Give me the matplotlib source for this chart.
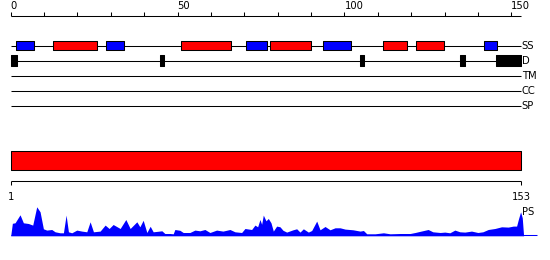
import numpy as np
import matplotlib
matplotlib.use("Agg")
import matplotlib.pyplot as plt

# ---------------- data ----------------
seq_length = 153
ruler_ticks = list(range(0, 151, 10))
ruler_labels = [0, 50, 100, 150]

track_names = ["SS", "D", "TM", "CC", "SP"]

helix_ranges = [(12.8, 25.8), (50.9, 66.0), (77.7, 89.9), (111.7, 118.7), (121.6, 129.7)]
strand_ranges = [(1.6, 6.9), (28.6, 33.9), (70.6, 76.8), (93.7, 101.9), (141.7, 145.7)]
disorder_ranges = [(0.0, 1.8), (44.8, 46.0), (104.7, 106.0), (134.7, 136.0), (145.5, 153.0)]
domain_ranges = [(0.0, 153.0)]

bottom_labels = ["1", "153"]
bottom_label_pos = [0, 153]

ps_pos = [0.0, 0.5, 1.3, 2.8, 3.8, 5.3, 6.6, 7.8, 8.8, 9.8, 10.8, 12.3, 13.3, 14.8,
          15.8, 16.6, 17.3, 18.3, 19.8, 21.3, 22.8, 23.8, 24.8, 26.8, 28.3, 29.5,
          30.7, 32.8, 34.5, 35.8, 37.8, 38.7, 39.7, 40.8, 41.8, 42.7, 44.1, 45.3,
          46.2, 47.7, 48.7, 49.2, 50.7, 51.7, 53.7, 55.2, 56.7, 58.2, 59.7, 61.7,
          63.6, 65.7, 67.2, 69.2, 70.2, 72.2, 73.2, 74.0, 74.7, 75.2, 75.7, 76.5,
          77.2, 78.0, 78.7, 79.7, 80.7, 81.6, 82.7, 84.6, 85.7, 86.7, 87.7, 89.2,
          90.2, 91.7, 92.7, 94.2, 95.7, 97.2, 98.7, 100.2, 102.6, 104.7, 105.7,
          106.7, 109.2, 111.7, 113.7, 116.7, 119.7, 121.2, 123.0, 125.1, 126.5,
          128.7, 130.1, 131.6, 133.1, 134.6, 136.1, 138.1, 140.0, 141.5, 143.1,
          145.1, 147.1, 149.1, 150.6, 151.6, 152.2, 152.8, 153.3, 153.7]
ps_val = [0, 12.5, 13, 21, 13, 12.3, 10.7, 29, 24, 7, 5.7, 6.3, 4, 3,
          3, 20.7, 4, 3, 5.7, 4.7, 4, 14, 4, 4.7, 10.7, 7.3,
          11.3, 7.3, 16.3, 7.3, 14, 9, 15.5, 3.3, 9.5, 4, 4.5, 5,
          2.3, 2.3, 2, 6.3, 5.5, 3.3, 3.3, 5.7, 5, 6.3, 3.3, 5.7,
          4.7, 6.3, 4, 3.3, 7.3, 6.3, 10.7, 9, 16.3, 11.5, 20.7, 15,
          17.3, 13, 4.7, 9.7, 9, 5.5, 3.7, 6, 7, 3.7, 7, 3.7,
          5.3, 14.7, 6, 9.3, 6, 8, 8, 6.7, 6, 4.7, 5.3,
          2, 2, 3, 2, 2.3, 2.3, 3.3, 4.7, 6.3, 4,
          3.3, 3.7, 3, 5.7, 4, 3.7, 4.7, 3.3, 4, 6.3,
          7.3, 9, 8.7, 9.7, 9.7, 17.3, 24, 18, 0]
ps_baseline_end = 157.6

# ---------------- layout ----------------
W, H = 550, 260
PX_PER_RES = 3.337
X0_PX = 10.7
xmin = -X0_PX / PX_PER_RES
xmax = xmin + W / PX_PER_RES

RED, BLUE, BLACK = "#ff0000", "#0000ff", "#000000"
LW = 0.75
FS = 7.2
TXT = "#000000"

plt.rcParams["font.family"] = ["DejaVu Sans"]
fig = plt.figure(figsize=(W / 100, H / 100), dpi=100)
ax = fig.add_axes([0, 0, 1, 1])
ax.set_xlim(xmin, xmax)
ax.set_ylim(H, 0)
ax.axis("off")

# ruler
ruler_y = 15.5
ax.hlines(ruler_y, 0, seq_length, color=BLACK, lw=LW)
ax.vlines(ruler_ticks, 11.5, ruler_y, color=BLACK, lw=LW)
for v in ruler_labels:
    ax.text(v, 9.3, str(v), ha="left", va="baseline", fontsize=FS, color=TXT)

# tracks
track_y = [45.5, 60.5, 75.5, 90.5, 105.5]
for name, y in zip(track_names, track_y):
    ax.hlines(y, 0, seq_length, color=BLACK, lw=LW, zorder=1)
    ax.text(seq_length + 0.1, y + 3.6, name, ha="left", va="baseline", fontsize=FS, color=TXT)

ss_y = track_y[0]
ax.broken_barh([(a, b - a) for a, b in strand_ranges], (ss_y - 4.8, 9.6),
               facecolors=BLUE, edgecolors=BLACK, linewidth=LW, zorder=2)
ax.broken_barh([(a, b - a) for a, b in helix_ranges], (ss_y - 4.8, 9.6),
               facecolors=RED, edgecolors=BLACK, linewidth=LW, zorder=2)
d_y = track_y[1]
ax.broken_barh([(a, b - a) for a, b in disorder_ranges], (d_y - 5.2, 10.4),
               facecolors=BLACK, edgecolors=BLACK, linewidth=LW, zorder=2)

# domain bar
ax.broken_barh([(a, b - a) for a, b in domain_ranges], (151.0, 19.0),
               facecolors=RED, edgecolors=BLACK, linewidth=LW, zorder=2)

# bottom ruler
by = 180.5
ax.hlines(by, 0, seq_length, color=BLACK, lw=LW)
ax.vlines(bottom_label_pos, by, by + 4, color=BLACK, lw=LW)
for lab, p in zip(bottom_labels, bottom_label_pos):
    ax.text(p, 200.2, lab, ha="center", va="baseline", fontsize=FS, color=TXT)

# PS profile
base = 235.8
pos = np.array(ps_pos)
val = np.array(ps_val)
ax.fill_between(pos, base, base - val, color=BLUE, lw=0, zorder=2)
ax.hlines(base - 0.5, 0, ps_baseline_end, color=BLUE, lw=LW, zorder=2)
ax.text(seq_length + 0.2, 215.3, "PS", ha="left", va="baseline", fontsize=FS, color=TXT)

fig.savefig("out.png", dpi=100)
